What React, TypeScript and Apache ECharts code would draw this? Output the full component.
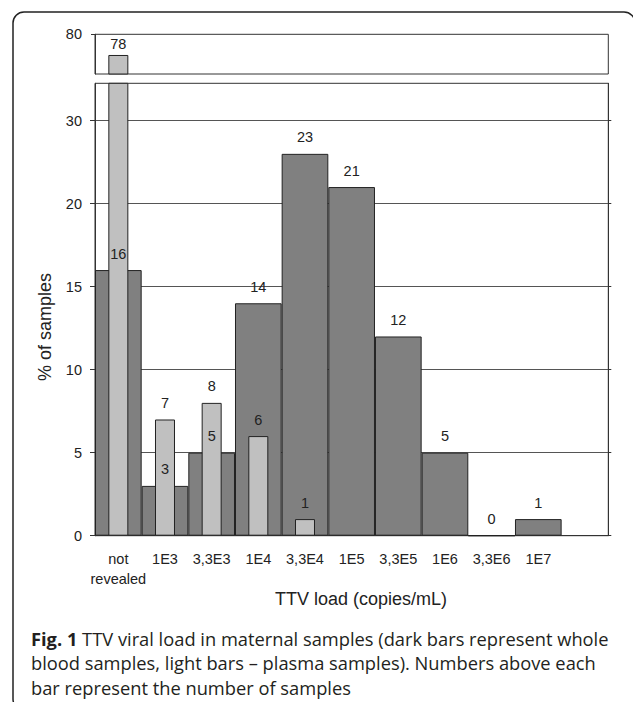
import React, { useEffect, useRef } from "react";
import * as echarts from "echarts";

const categories = ["not\nrevealed", "1E3", "3,3E3", "1E4", "3,3E4", "1E5", "3,3E5", "1E6", "3,3E6", "1E7", ""];
const wholeBlood = [16, 3, 5, 14, 23, 21, 12, 5, 0, 1, null];
const plasma = [78, 7, 8, 6, 1, null, null, null, null, null, null];
const lowerTicks = [0, 5, 10, 15, 20, 25];
const lowerTickLabels = ["0", "5", "10", "15", "20", "30"];
const upperTicks = [80];
const upperTickLabels = ["80"];
const lowerMax = 27.25;
const upperMin = 76.16;
const upperMax = 80;

const xTitle = "TTV load (copies/mL)";
const yTitle = "% of samples";
const captionLines = [
  "{b|Fig. 1} TTV viral load in maternal samples (dark bars represent whole",
  "blood samples, light bars \u2013 plasma samples). Numbers above each",
  "bar represent the number of samples",
];

const FONT = '"Liberation Sans", Arial, sans-serif';
const CAP_FONT = '"Open Sans", "Noto Sans", sans-serif';

export default function App() {
  const ref = useRef<HTMLDivElement>(null);
  useEffect(() => {
    if (!ref.current) return;
    const chart = echarts.init(ref.current, undefined, { renderer: "svg" });
    const plasmaUpper = plasma.map((v) => (v != null && v > upperMin ? v : null));
    const axisColor = "#333";
    const labelStyle = { fontSize: 14.5, color: "#222", fontFamily: FONT };
    const barBorder = { borderColor: "#222", borderWidth: 1 };
    const option: any = {
      animation: false,
      grid: [
        { left: 95, right: 24.7, top: 34.3, height: 39.7, show: true, borderColor: axisColor, borderWidth: 1 },
        { left: 95, right: 24.7, top: 83.3, height: 452.4, show: true, borderColor: axisColor, borderWidth: 1 },
      ],
      xAxis: [
        { gridIndex: 0, type: "category", data: categories, show: false },
        {
          gridIndex: 1,
          type: "category",
          data: categories,
          axisLine: { lineStyle: { color: axisColor, width: 1 } },
          axisTick: { length: 5, lineStyle: { color: axisColor } },
          axisLabel: { ...labelStyle, margin: 14, lineHeight: 19.5, interval: 0 },
        },
        { gridIndex: 1, type: "category", data: categories, show: false },
      ],
      yAxis: [
        {
          gridIndex: 0,
          type: "value",
          min: upperMin,
          max: upperMax,
          axisLine: { show: true, lineStyle: { color: axisColor } },
          axisTick: { show: true, length: 4, customValues: upperTicks, lineStyle: { color: axisColor } },
          axisLabel: {
            ...labelStyle,
            margin: 13,
            customValues: upperTicks,
            formatter: (v: number) => upperTickLabels[upperTicks.indexOf(v)] ?? "",
          },
          splitLine: { show: false },
        },
        {
          gridIndex: 1,
          type: "value",
          min: 0,
          max: lowerMax,
          interval: 5,
          axisLine: { show: true, lineStyle: { color: axisColor } },
          axisTick: { show: true, length: 5, customValues: lowerTicks, lineStyle: { color: axisColor } },
          axisLabel: {
            ...labelStyle,
            margin: 13,
            customValues: lowerTicks,
            formatter: (v: number) => lowerTickLabels[lowerTicks.indexOf(v)] ?? "",
          },
          splitLine: { show: true, lineStyle: { color: "#555", width: 1 } },
        },
        {
          gridIndex: 1,
          type: "value",
          position: "right",
          min: 0,
          max: lowerMax,
          interval: 5,
          axisLine: { show: true, lineStyle: { color: axisColor } },
          axisTick: { show: true, length: 3, customValues: lowerTicks, lineStyle: { color: axisColor } },
          axisLabel: { show: false },
          splitLine: { show: false },
        },
      ],
      series: [
        {
          type: "bar",
          xAxisIndex: 1,
          yAxisIndex: 1,
          data: wholeBlood,
          barWidth: "100%",
          itemStyle: { color: "#808080", ...barBorder },
          label: { show: true, position: "top", distance: 9, ...labelStyle },
        },
        {
          type: "bar",
          xAxisIndex: 2,
          yAxisIndex: 1,
          data: plasma,
          barWidth: 20,
          itemStyle: { color: "#c0c0c0", ...barBorder },
          label: {
            show: true,
            position: "top",
            distance: 9,
            ...labelStyle,
            formatter: (p: any) => (p.value != null && p.value <= lowerMax ? String(p.value) : ""),
          },
        },
        {
          type: "bar",
          xAxisIndex: 0,
          yAxisIndex: 0,
          data: plasmaUpper,
          barWidth: 20,
          itemStyle: { color: "#c0c0c0", ...barBorder },
          label: { show: true, position: "top", distance: 3, ...labelStyle },
        },
      ],
      graphic: [
        {
          type: "rect",
          shape: { x: 13, y: 12, width: 622, height: 698, r: 11 },
          style: { fill: "none", stroke: "#222", lineWidth: 1.5 },
          silent: true,
        },
        {
          type: "text",
          x: 361,
          y: 599,
          style: { text: xTitle, fontSize: 18, fontFamily: FONT, fill: "#222", align: "center", verticalAlign: "middle" },
        },
        {
          type: "text",
          x: 45,
          y: 327,
          rotation: Math.PI / 2,
          style: { text: yTitle, fontSize: 18, fontFamily: FONT, fill: "#222", align: "center", verticalAlign: "middle" },
        },
        ...captionLines.map((t, i) => ({
          type: "text",
          x: 31,
          y: 638 + i * 24.5,
          style: {
            text: t,
            fontSize: 18.3,
            fontFamily: CAP_FONT,
            fill: "#231f20",
            align: "left",
            verticalAlign: "middle",
            rich: { b: { fontSize: 18.3, fontFamily: CAP_FONT, fontWeight: "bold", fill: "#231f20" } },
          },
        })),
      ],
    };
    chart.setOption(option);
    return () => chart.dispose();
  }, []);
  return <div ref={ref} style={{ position: "fixed", left: 0, top: 0, width: 633, height: 702, background: "#fff" }} />;
}
